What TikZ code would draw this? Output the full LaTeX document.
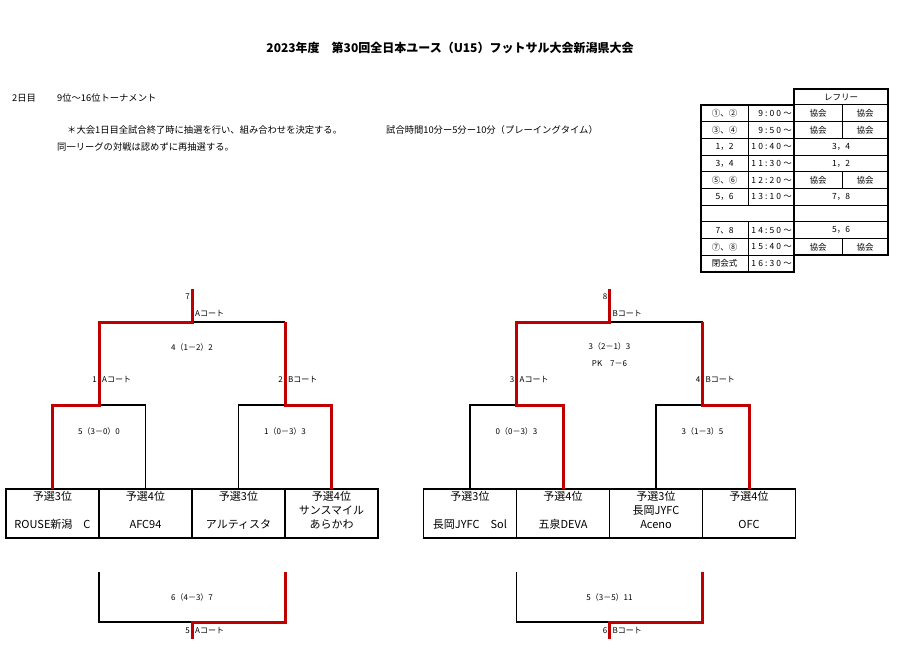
\documentclass[tikz,border=0pt]{standalone}
\usepackage{fontspec}
\setmainfont{Noto Sans CJK JP}
\usetikzlibrary{calc,positioning}
\definecolor{winred}{RGB}{192,0,0}

\tikzset{
    win/.style={draw=winred, line width=3pt},
    lose/.style={draw=black, line width=1.2pt},
    teambox/.style={draw, line width=1.8pt, minimum width=93pt, minimum height=49pt,
        inner sep=0pt, outer sep=0pt, align=center, text depth=8pt, font=\fontsize{11}{14}\selectfont},
    lbl/.style={inner sep=0pt, font=\fontsize{8}{10}\selectfont},
    note/.style={inner sep=0pt, anchor=west, font=\fontsize{9.3}{11}\selectfont},
    cell/.style={inner sep=0pt, font=\fontsize{8.5}{10}\selectfont},
    grid/.style={line width=1pt},
    frame/.style={line width=2pt},
}

\begin{document}
\begin{tikzpicture}[x=1pt, y=-1pt]
    \useasboundingbox (0,0) rectangle (900,658);
    \pgfmathsetmacro\rh{16.7} % row height of the schedule
    % title and notes
    \node[inner sep=0pt, font=\fontsize{12}{14}\selectfont\bfseries] (title) at (450,48)
        {2023年度　第30回全日本ユース（U15）フットサル大会新潟県大会};
    \node[note] (day) at (12,98) {2日目};
    \node[note] (round) at (57,98) {9位～16位トーナメント};
    \node[note] (rule1) at (67,130) {＊大会1日目全試合終了時に抽選を行い、組み合わせを決定する。};
    \node[note] (time) at (386,130) {試合時間10分ー5分ー10分（プレーイングタイム）};
    \node[note] (rule2) at (57,147) {同一リーグの対戦は認めずに再抽選する。};

    % schedule table
    \draw[grid] (794,105) -- (888,105);
    \foreach \r in {1,...,9} {
        \draw[grid] (701,{105+\r*\rh}) -- (888,{105+\r*\rh});
    }
    \draw[grid] (748,105) -- (748,{105+6*\rh});
    \draw[grid] (748,{105+7*\rh}) -- (748,{105+10*\rh});
    \foreach \r in {1,2,5,9} {
        \draw[grid] (842,{105+(\r-1)*\rh}) -- (842,{105+\r*\rh});
        \node[cell] (ra\r) at (818,{105+(\r-0.5)*\rh}) {協会};
        \node[cell] (rb\r) at (865,{105+(\r-0.5)*\rh}) {協会};
    }
    \foreach \r/\m in {3/3，4, 4/1，2, 6/7，8, 8/5，6} {
        \node[cell] (rm\r) at (841,{105+(\r-0.5)*\rh}) {\m};
    }
    \foreach \r/\g/\t in {1/①、②/9:00～, 2/③、④/9:50～, 3/1，2/10:40～, 4/3，4/11:30～,
            5/⑤、⑥/12:20～, 6/5，6/13:10～, 8/7、8/14:50～, 9/⑦、⑧/15:40～, 10/閉会式/16:30～} {
        \node[cell] (g\r) at (724.5,{105+(\r-0.5)*\rh}) {\g};
        \node[cell, anchor=east] (t\r) at (792,{105+(\r-0.5)*\rh}) {\addfontfeatures{LetterSpace=25}\t};
    }
    \node[cell] (ref) at (841,97) {レフリー};
    \draw[frame] (701,105) rectangle (794,{105+10*\rh});
    \draw[frame] (794,89) rectangle (888,{105+9*\rh});

    % teams
    \node[teambox] (L1) at (52.5,513.5) {予選3位\\[14pt]ROUSE新潟　C};
    \node[teambox, right=0pt of L1] (L2) {予選4位\\[14pt]AFC94};
    \node[teambox, right=0pt of L2] (L3) {予選3位\\[14pt]アルティスタ};
    \node[teambox, right=0pt of L3] (L4) {予選4位\\サンスマイル\\あらかわ};
    \node[teambox] (R1) at (470,513.5) {予選3位\\[14pt]長岡JYFC　Sol};
    \node[teambox, right=0pt of R1] (R2) {予選4位\\[14pt]五泉DEVA};
    \node[teambox, right=0pt of R2] (R3) {予選3位\\長岡JYFC\\Aceno};
    \node[teambox, right=0pt of R3] (R4) {予選4位\\[14pt]OFC};

    % left bracket
    \coordinate (A1) at (99,405);
    \coordinate (A2) at (285,405);
    \coordinate (A2up) at (285,322);
    \coordinate (F7) at (192,322);
    \coordinate (F7top) at (192,289);
    \draw[lose] (L2.north) |- (A1);
    \draw[lose] (L3.north) |- (A2);
    \draw[lose] (A2up) -- (F7);
    \draw[win] (L1.north) |- (A1) |- (F7) -- (F7top);
    \draw[win] (L4.north) |- (A2) -- (A2up);
    \node[lbl, anchor=east] (n7) at (190,297) {7};
    \node[lbl, anchor=west] (c7) at (195,314) {Aコート};
    \node[lbl] (s7) at (192,347) {4（1－2）2};
    \node[lbl, anchor=east] (n1) at (97,380) {1};
    \node[lbl, anchor=west] (c1) at (102,380) {Aコート};
    \node[lbl, anchor=east] (n2) at (283,380) {2};
    \node[lbl, anchor=west] (c2) at (288,380) {Bコート};
    \node[lbl] (s1) at (99,431) {5（3－0）0};
    \node[lbl] (s2) at (285,431) {1（0－3）3};

    % right bracket
    \coordinate (A3) at (516.5,405);
    \coordinate (A4) at (702.5,405);
    \coordinate (A4up) at (702.5,322);
    \coordinate (F8) at (609.5,322);
    \coordinate (F8top) at (609.5,289);
    \draw[lose] (R1.north) |- (A3);
    \draw[lose] (R3.north) |- (A4);
    \draw[lose] (A4up) -- (F8);
    \draw[win] (R2.north) |- (A3) |- (F8) -- (F8top);
    \draw[win] (R4.north) |- (A4) -- (A4up);
    \node[lbl, anchor=east] (n8) at (607.5,297) {8};
    \node[lbl, anchor=west] (c8) at (612.5,314) {Bコート};
    \node[lbl] (s8) at (609.5,346) {3（2－1）3};
    \node[lbl] (pk8) at (609.5,364) {PK　7－6};
    \node[lbl, anchor=east] (n3) at (514.5,380) {3};
    \node[lbl, anchor=west] (c3) at (519.5,380) {Aコート};
    \node[lbl, anchor=east] (n4) at (700.5,380) {4};
    \node[lbl, anchor=west] (c4) at (705.5,380) {Bコート};
    \node[lbl] (s3) at (516.5,431) {0（0－3）3};
    \node[lbl] (s4) at (702.5,431) {3（1－3）5};

    % lower matches
    \coordinate (B5) at (192,622);
    \coordinate (B5l) at (99,572);
    \coordinate (B5r) at (285,572);
    \coordinate (B5bot) at (192,639);
    \draw[lose] (B5l) |- (B5);
    \draw[win] (B5r) |- (B5) -- (B5bot);
    \node[lbl] (s5) at (192,597) {6（4－3）7};
    \node[lbl, anchor=east] (n5) at (190,631) {5};
    \node[lbl, anchor=west] (c5) at (195,631) {Aコート};
    \coordinate (B6) at (609.5,622);
    \coordinate (B6l) at (516.5,572);
    \coordinate (B6r) at (702.5,572);
    \coordinate (B6bot) at (609.5,639);
    \draw[lose] (B6l) |- (B6);
    \draw[win] (B6r) |- (B6) -- (B6bot);
    \node[lbl] (s6) at (609.5,597) {5（3－5）11};
    \node[lbl, anchor=east] (n6) at (607.5,631) {6};
    \node[lbl, anchor=west] (c6) at (612.5,631) {Bコート};
\end{tikzpicture}
\end{document}
